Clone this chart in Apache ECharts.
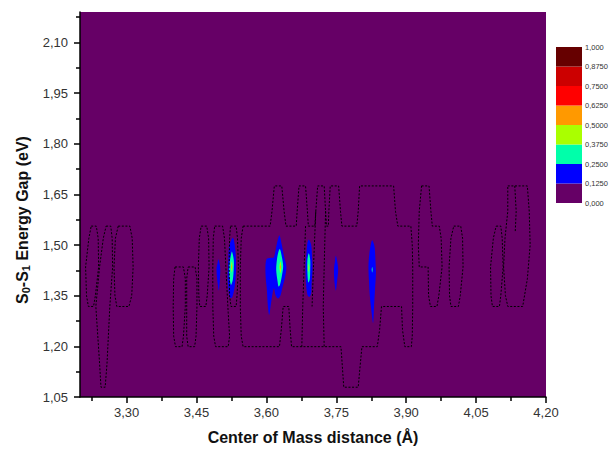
<!DOCTYPE html>
<html>
<head>
<meta charset="utf-8">
<script src="https://cdn.jsdelivr.net/npm/echarts@6/dist/echarts.min.js"></script>
<style>
  html, body { margin: 0; padding: 0; background: #ffffff; }
  #chart { width: 614px; height: 453px; }
</style>
</head>
<body>
<div id="chart"></div>
<script>
// ---- axes ----
const xRange = [3.20, 4.20];
const yRange = [1.05, 2.19];
const xTickValues = [3.30, 3.45, 3.60, 3.75, 3.90, 4.05, 4.20];
const xMinorTicks = [3.225, 3.375, 3.525, 3.675, 3.825, 3.975, 4.125];
const yTickValues = [1.05, 1.20, 1.35, 1.50, 1.65, 1.80, 1.95, 2.10];
const yMinorTicks = [1.125, 1.275, 1.425, 1.575, 1.725, 1.875, 2.025, 2.175];

// ---- colour levels of the density map ----
const levelBounds = [0, 0.125, 0.25, 0.375, 0.5, 0.625, 0.75, 0.875, 1.0];
const levelLabels = ['0,000', '0,1250', '0,2500', '0,3750', '0,5000', '0,6250', '0,7500', '0,8750', '1,000'];
const levelColors = ['#660066', '#0000ff', '#00ffaa', '#aaff00', '#ff9900', '#ff0000', '#cc0000', '#660000'];

// ---- filled density contours: [distance (Å), gap (eV)] ----
const peak1Blue = [[3.497,1.458],[3.500,1.442],[3.501,1.427],[3.500,1.397],[3.498,1.365],[3.495,1.392],[3.493,1.427],[3.495,1.446]];

const peak2Blue = [[3.527,1.521],[3.530,1.516],[3.534,1.476],[3.535,1.427],[3.532,1.377],[3.527,1.346],[3.523,1.343],[3.520,1.353],[3.517,1.397],[3.518,1.446],[3.520,1.496]];
const peak2Cyan = [[3.526,1.481],[3.530,1.456],[3.530,1.432],[3.528,1.397],[3.524,1.382],[3.520,1.417],[3.521,1.446],[3.524,1.471]];
const peak2Lime = [[3.526,1.451],[3.527,1.437],[3.526,1.419],[3.524,1.437]];
const peak2Orange = [[3.5255,1.441],[3.5262,1.435],[3.5255,1.429],[3.5248,1.435]];

const peak3Blue = [[3.628,1.528],[3.633,1.501],[3.638,1.466],[3.643,1.435],[3.640,1.405],[3.634,1.372],[3.630,1.350],[3.625,1.342],[3.620,1.350],[3.616,1.372],[3.611,1.338],[3.606,1.293],[3.603,1.323],[3.601,1.367],[3.598,1.417],[3.600,1.458],[3.609,1.462],[3.616,1.464],[3.622,1.501]];
const peak3Cyan = [[3.629,1.488],[3.633,1.466],[3.636,1.437],[3.633,1.407],[3.629,1.382],[3.626,1.377],[3.624,1.392],[3.621,1.427],[3.623,1.461],[3.626,1.481]];
const peak3Lime = [[3.630,1.451],[3.632,1.435],[3.630,1.417],[3.628,1.435]];
const peak3Orange = [[3.630,1.441],[3.631,1.435],[3.630,1.429],[3.629,1.435]];

const peak4Blue = [[3.691,1.516],[3.696,1.501],[3.698,1.466],[3.699,1.427],[3.697,1.387],[3.696,1.358],[3.692,1.346],[3.688,1.353],[3.685,1.387],[3.684,1.437],[3.686,1.476],[3.688,1.506]];
const peak4Cyan = [[3.691,1.476],[3.694,1.456],[3.694,1.427],[3.693,1.397],[3.690,1.389],[3.688,1.417],[3.688,1.456]];
const peak4Lime = [[3.691,1.445],[3.692,1.432],[3.691,1.420],[3.690,1.432]];

const peak5Blue = [[3.749,1.468],[3.752,1.451],[3.754,1.427],[3.752,1.397],[3.749,1.365],[3.746,1.392],[3.745,1.427],[3.747,1.451]];

const peak6Blue = [[3.827,1.514],[3.832,1.496],[3.834,1.456],[3.835,1.417],[3.833,1.367],[3.831,1.318],[3.829,1.269],[3.826,1.298],[3.822,1.348],[3.820,1.397],[3.819,1.437],[3.821,1.476],[3.824,1.501]];
const peak6Cyan = [[3.827,1.435],[3.828,1.427],[3.827,1.419],[3.826,1.427]];

// level index into levelColors for each filled region
const filledRegions = [
  { level: 1, pts: peak1Blue },
  { level: 1, pts: peak2Blue },
  { level: 1, pts: peak3Blue },
  { level: 1, pts: peak4Blue },
  { level: 1, pts: peak5Blue },
  { level: 1, pts: peak6Blue },
  { level: 2, pts: peak2Cyan },
  { level: 2, pts: peak3Cyan },
  { level: 2, pts: peak4Cyan },
  { level: 2, pts: peak6Cyan },
  { level: 3, pts: peak2Lime },
  { level: 3, pts: peak3Lime },
  { level: 3, pts: peak4Lime },
  { level: 4, pts: peak2Orange },
  { level: 4, pts: peak3Orange }
];

// ---- outer (dotted) contour lines ----
const edgeLeft1 = [[3.224,1.556],[3.235,1.556],[3.239,1.52],[3.240,1.435],[3.233,1.35],[3.229,1.318],[3.218,1.318],[3.214,1.35],[3.212,1.435],[3.219,1.52],[3.224,1.556]];
const edgeLeft2 = [[3.256,1.556],[3.266,1.556],[3.269,1.52],[3.270,1.435],[3.264,1.318],[3.258,1.15],[3.254,1.079],[3.245,1.079],[3.242,1.15],[3.234,1.318],[3.242,1.435],[3.250,1.52],[3.256,1.556]];
const edgeLeft3 = [[3.282,1.556],[3.307,1.556],[3.312,1.52],[3.314,1.435],[3.311,1.35],[3.305,1.318],[3.279,1.318],[3.275,1.35],[3.273,1.435],[3.276,1.52],[3.282,1.556]];
const edgeMid1 = [[3.404,1.435],[3.422,1.435],[3.426,1.40],[3.426,1.318],[3.422,1.23],[3.419,1.199],[3.405,1.199],[3.401,1.23],[3.400,1.318],[3.401,1.40],[3.404,1.435]];
const edgeMid2 = [[3.432,1.435],[3.447,1.435],[3.451,1.40],[3.451,1.318],[3.449,1.23],[3.446,1.199],[3.432,1.199],[3.429,1.23],[3.429,1.318],[3.429,1.40],[3.432,1.435]];
const edgeMid3 = [[3.460,1.556],[3.472,1.556],[3.476,1.52],[3.477,1.435],[3.473,1.35],[3.470,1.318],[3.457,1.318],[3.455,1.35],[3.454,1.435],[3.456,1.52],[3.460,1.556]];
const edgeMid4 = [[3.489,1.556],[3.506,1.556],[3.510,1.52],[3.513,1.435],[3.518,1.30],[3.521,1.23],[3.518,1.199],[3.491,1.199],[3.487,1.23],[3.485,1.318],[3.485,1.435],[3.486,1.52],[3.489,1.556]];
const edgeMid5 = [[3.523,1.556],[3.535,1.556],[3.538,1.52],[3.540,1.435],[3.537,1.35],[3.535,1.318],[3.524,1.318],[3.521,1.35],[3.520,1.435],[3.521,1.52],[3.523,1.556]];
const edgeCentre = [
  [3.550,1.556],[3.608,1.556],[3.612,1.60],[3.617,1.675],[3.633,1.675],[3.638,1.60],[3.642,1.556],
  [3.664,1.556],[3.666,1.60],[3.670,1.675],[3.684,1.675],[3.688,1.60],[3.690,1.556],
  [3.704,1.556],[3.706,1.60],[3.710,1.675],[3.724,1.675],[3.727,1.60],[3.729,1.556],
  [3.733,1.556],[3.734,1.60],[3.737,1.675],[3.755,1.675],[3.759,1.60],[3.762,1.556],
  [3.794,1.556],[3.797,1.60],[3.800,1.675],[3.873,1.675],[3.877,1.60],[3.882,1.556],
  [3.910,1.556],[3.913,1.50],[3.914,1.435],[3.914,1.318],[3.913,1.23],[3.911,1.199],
  [3.897,1.199],[3.892,1.25],[3.890,1.318],[3.847,1.318],[3.843,1.25],[3.838,1.199],
  [3.805,1.199],[3.801,1.14],[3.797,1.079],[3.766,1.079],[3.763,1.14],[3.760,1.199],
  [3.654,1.199],[3.651,1.25],[3.648,1.318],[3.636,1.318],[3.632,1.25],[3.628,1.199],
  [3.550,1.199],[3.546,1.23],[3.544,1.318],[3.544,1.435],[3.546,1.52],[3.550,1.556]
];
const edgeInner1 = [[3.727,1.60],[3.724,1.435],[3.722,1.318],[3.724,1.199]];
const edgeInner2 = [[3.684,1.556],[3.681,1.435],[3.678,1.318],[3.676,1.199]];
const edgeInner3 = [[3.706,1.60],[3.701,1.435],[3.698,1.318]];
const edgeRight1 = [[3.933,1.675],[3.949,1.675],[3.953,1.60],[3.956,1.556],[3.971,1.556],[3.975,1.52],[3.977,1.435],[3.970,1.35],[3.966,1.318],[3.952,1.318],[3.948,1.35],[3.947,1.435],[3.928,1.435],[3.926,1.50],[3.928,1.60],[3.933,1.675]];
const edgeRight2 = [[4.002,1.556],[4.017,1.556],[4.021,1.52],[4.022,1.435],[4.016,1.35],[4.012,1.318],[3.996,1.318],[3.993,1.35],[3.992,1.435],[3.996,1.52],[4.002,1.556]];
const edgeRight3 = [[4.093,1.556],[4.103,1.556],[4.106,1.52],[4.108,1.435],[4.103,1.35],[4.100,1.318],[4.085,1.318],[4.082,1.35],[4.081,1.435],[4.087,1.52],[4.093,1.556]];
const edgeRight4 = [[4.118,1.675],[4.160,1.675],[4.164,1.60],[4.166,1.50],[4.160,1.40],[4.150,1.318],[4.118,1.318],[4.113,1.35],[4.109,1.435],[4.112,1.52],[4.118,1.60],[4.118,1.675]];
const edgeRight5 = [[4.133,1.675],[4.136,1.60],[4.134,1.54]];

const contourPaths = [edgeLeft1, edgeLeft2, edgeLeft3, edgeMid1, edgeMid2, edgeMid3, edgeMid4, edgeMid5,
  edgeCentre, edgeInner1, edgeInner2, edgeInner3, edgeRight1, edgeRight2, edgeRight3, edgeRight4, edgeRight5];

// ---- chart ----
const FONT = '"Liberation Sans", Arial, sans-serif';
const comma = (v, d) => v.toFixed(d).replace('.', ',');
const plotRect = { left: 80, top: 12, width: 466, height: 385 };

const fillSeries = {
  type: 'custom',
  xAxisIndex: 0, yAxisIndex: 0,
  clip: true,
  silent: true,
  z: 2,
  data: filledRegions.map(r => r.pts[0]),
  renderItem: function (params, api) {
    const region = filledRegions[params.dataIndex];
    return {
      type: 'polygon',
      shape: { points: region.pts.map(p => api.coord(p)), smooth: 0.3 },
      style: { fill: levelColors[region.level], stroke: null }
    };
  }
};

const lineSeries = contourPaths.map(path => ({
  type: 'line',
  xAxisIndex: 0, yAxisIndex: 0,
  data: path,
  symbol: 'none',
  silent: true,
  z: 3,
  lineStyle: { color: '#000000', width: 1, type: [2, 1.6] }
}));

const colorbarSeries = levelColors.map((c, i) => ({
  type: 'bar',
  xAxisIndex: 2, yAxisIndex: 2,
  stack: 'levels',
  barWidth: '100%',
  silent: true,
  data: [levelBounds[i + 1] - levelBounds[i]],
  itemStyle: { color: c }
}));

const chart = echarts.init(document.getElementById('chart'), null, { renderer: 'svg' });
chart.setOption({
  animation: false,
  backgroundColor: '#ffffff',
  textStyle: { fontFamily: FONT },
  grid: [
    Object.assign({ show: true, backgroundColor: levelColors[0], borderWidth: 0 }, plotRect),
    Object.assign({ show: false }, plotRect),
    { left: 556, top: 47, width: 26, height: 156 }
  ],
  xAxis: [
    {
      gridIndex: 0, type: 'value', min: xRange[0], max: xRange[1],
      axisLine: { lineStyle: { color: '#000', width: 1.5 } },
      axisTick: { customValues: xTickValues, length: 6, lineStyle: { color: '#000', width: 1.5 } },
      axisLabel: { customValues: xTickValues, formatter: v => comma(v, 2), fontSize: 13, color: '#333', margin: 9, fontFamily: FONT },
      splitLine: { show: false }
    },
    {
      gridIndex: 1, type: 'value', min: xRange[0], max: xRange[1],
      axisLine: { show: false },
      axisTick: { customValues: xMinorTicks, length: 4, lineStyle: { color: '#000', width: 1.5 } },
      axisLabel: { show: false },
      splitLine: { show: false }
    },
    {
      gridIndex: 2, type: 'category', data: [''], show: false
    }
  ],
  yAxis: [
    {
      gridIndex: 0, type: 'value', min: yRange[0], max: yRange[1],
      axisLine: { lineStyle: { color: '#000', width: 1.5 } },
      axisTick: { customValues: yTickValues, length: 6, lineStyle: { color: '#000', width: 1.5 } },
      axisLabel: { customValues: yTickValues, formatter: v => comma(v, 2), fontSize: 13, color: '#333', margin: 12, fontFamily: FONT },
      splitLine: { show: false }
    },
    {
      gridIndex: 1, type: 'value', min: yRange[0], max: yRange[1],
      axisLine: { show: false },
      axisTick: { customValues: yMinorTicks, length: 4, lineStyle: { color: '#000', width: 1.5 } },
      axisLabel: { show: false },
      splitLine: { show: false }
    },
    {
      gridIndex: 2, type: 'value', min: 0, max: 1, position: 'right',
      axisLine: { show: false }, axisTick: { show: false }, splitLine: { show: false },
      axisLabel: {
        customValues: levelBounds,
        formatter: v => levelLabels[levelBounds.findIndex(b => Math.abs(b - v) < 1e-9)],
        fontSize: 7.5, color: '#333', margin: 3, fontFamily: FONT
      }
    }
  ],
  graphic: [
    {
      type: 'text', x: 313, y: 437,
      style: {
        text: 'Center of Mass distance (Å)',
        fontSize: 16, fontWeight: 'bold', fontFamily: FONT, fill: '#111',
        align: 'center', verticalAlign: 'middle'
      }
    },
    {
      type: 'text', x: 22, y: 220, rotation: Math.PI / 2,
      style: {
        text: '{m|S}{s|0}{m|-S}{s|1}{m| Energy Gap (eV)}',
        align: 'center', verticalAlign: 'middle', fill: '#111',
        rich: {
          m: { fontSize: 16, fontWeight: 'bold', fontFamily: FONT, fill: '#111', lineHeight: 18 },
          s: { fontSize: 11, fontWeight: 'bold', fontFamily: FONT, fill: '#111', lineHeight: 11, padding: [10, 0, 0, 0], verticalAlign: 'bottom' }
        }
      }
    }
  ],
  series: [fillSeries].concat(lineSeries, colorbarSeries)
});
</script>
</body>
</html>
